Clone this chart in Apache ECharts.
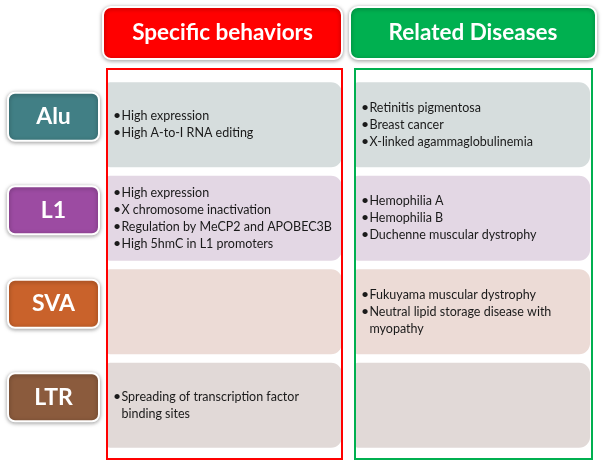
<!DOCTYPE html>
<html><head><meta charset="utf-8">
<script src="https://cdn.jsdelivr.net/npm/echarts@6/dist/echarts.min.js"></script>
<style>html,body{margin:0;padding:0;background:#fff}#c{width:604px;height:464px}</style>
</head><body><div id="c"></div>
<script>
const columns = ['Specific behaviors', 'Related Diseases'];
const rows = ['Alu', 'L1', 'SVA', 'LTR'];
const headerColors = ['#ff0000', '#00b050'];
const rowLabelColors = ['#417f85', '#9c4ba2', '#c9622b', '#8b5b3d'];
const rowCellColors = ['#d6dddd', '#e3d7e4', '#ecdbd6', '#e1d9d7'];
const behaviors = [
  ['High expression', 'High A-to-I RNA editing'],
  ['High expression', 'X chromosome inactivation', 'Regulation by MeCP2 and APOBEC3B', 'High 5hmC in L1 promoters'],
  [],
  ['Spreading of transcription factor\nbinding sites']
];
const diseases = [
  ['Retinitis pigmentosa', 'Breast cancer', 'X-linked agammaglobulinemia'],
  ['Hemophilia A', 'Hemophilia B', 'Duchenne muscular dystrophy'],
  ['Fukuyama muscular dystrophy', 'Neutral lipid storage disease with\nmyopathy'],
  []
];

const FONT = 'Lato';
const LH = 17;
const cellData = [];
rows.forEach((r, ri) => columns.forEach((c, ci) => cellData.push([ci, ri])));

const chart = echarts.init(document.getElementById('c'), null, {renderer: 'canvas'});
chart.setOption({
  animation: false,
  grid: {left: 100.5, right: 7.5, top: 78, bottom: 12},
  xAxis: {type: 'category', data: columns, show: false},
  yAxis: {type: 'category', data: rows, inverse: true, show: false},
  series: [
    {
      type: 'custom', z: 1, data: cellData,
      renderItem: function (params, api) {
        const ci = api.value(0), ri = api.value(1);
        const p = api.coord([ci, ri]);
        const s = api.size([1, 1]);
        const w = s[0] * 0.948, h = s[1] * 0.909;
        const left = p[0] - w / 2, top = p[1] - h / 2;
        const children = [{
          type: 'rect',
          shape: {x: left, y: top, width: w, height: h, r: [3, 11, 11, 3]},
          style: {fill: rowCellColors[ri]}
        }];
        const items = (ci === 0 ? behaviors : diseases)[ri];
        let total = 0;
        items.forEach(t => total += t.split('\n').length);
        let y = p[1] - total * LH / 2;
        items.forEach(t => {
          const n = t.split('\n').length;
          children.push({type: 'text', style: {text: '•', x: left + 6, y: y - 0.5, verticalAlign: 'top',
            font: '14px ' + FONT, fill: '#1a1a1a', lineHeight: LH}});
          children.push({type: 'text', style: {text: t, x: left + 14.5, y: y, verticalAlign: 'top',
            font: '12.5px ' + FONT, fill: '#1a1a1a', lineHeight: LH}});
          y += n * LH;
        });
        return {type: 'group', children: children};
      }
    },
    {
      type: 'custom', z: 3, data: columns.map((c, i) => [i]),
      renderItem: function (params, api) {
        const ci = api.value(0);
        const p = api.coord([ci, 0]);
        const cs = params.coordSys;
        const children = [];
        children.push({
          type: 'rect',
          shape: {x: p[0] - 117.5, y: cs.y - 9, width: 235 + (ci === 1 ? 2 : 0), height: cs.height + 16},
          style: {fill: 'none', stroke: headerColors[ci], lineWidth: 2}
        });
        const hw = ci === 0 ? 239 : 246;
        const hx = ci === 0 ? p[0] - 121.5 : p[0] - 122.5;
        children.push({
          type: 'rect',
          shape: {x: hx, y: cs.y - 71, width: hw, height: 52, r: 8},
          style: {fill: headerColors[ci], stroke: '#ffffff', lineWidth: 2,
            shadowBlur: 4, shadowColor: 'rgba(0,0,0,0.35)', shadowOffsetY: 1}
        });
        children.push({
          type: 'text',
          style: {text: columns[ci], x: hx + hw / 2, y: cs.y - 45, align: 'center', verticalAlign: 'middle',
            font: 'bold 22.5px ' + FONT, fill: '#ffffff'}
        });
        return {type: 'group', children: children};
      }
    },
    {
      type: 'custom', z: 3, data: rows.map((r, i) => [0, i]),
      renderItem: function (params, api) {
        const ri = api.value(1);
        const p = api.coord([0, ri]);
        const cs = params.coordSys;
        const cx = cs.x - 47, cy = p[1] - 8;
        return {type: 'group', children: [
          {type: 'rect', shape: {x: cx - 45.5, y: cy - 24, width: 91, height: 48, r: 7},
            style: {fill: rowLabelColors[ri], stroke: '#ffffff', lineWidth: 2,
              shadowBlur: 4, shadowColor: 'rgba(0,0,0,0.35)', shadowOffsetY: 1}},
          {type: 'text', style: {text: rows[ri], x: cx, y: cy, align: 'center', verticalAlign: 'middle',
            font: 'bold 23px ' + FONT, fill: '#ffffff'}}
        ]};
      }
    }
  ]
});
</script>
</body></html>
